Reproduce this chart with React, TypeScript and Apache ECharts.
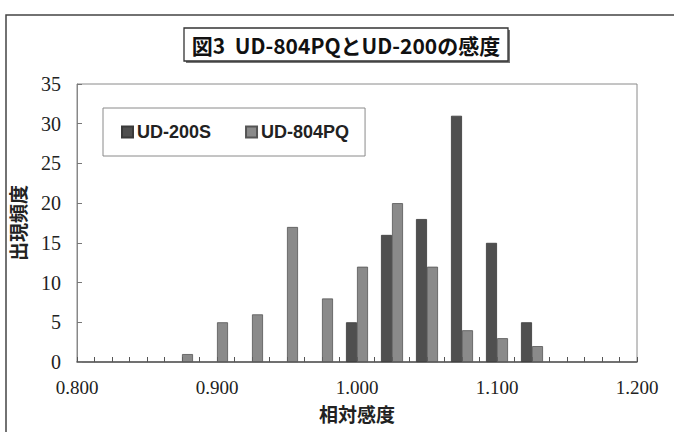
import React, { useEffect, useRef } from "react";
import * as echarts from "echarts";

const titleText = "図3  UD-804PQとUD-200の感度";
const seriesNames = ["UD-200S", "UD-804PQ"];
const yAxisName = "出現頻度";
const xAxisName = "相対感度";

// bin centres (relative sensitivity) and counts
const binsS = [1.0, 1.025, 1.05, 1.075, 1.1, 1.125];
const countsS = [5, 16, 18, 31, 15, 5];
const binsPQ = [0.875, 0.9, 0.925, 0.95, 0.975, 1.0, 1.025, 1.05, 1.075, 1.1, 1.125];
const countsPQ = [1, 5, 6, 17, 8, 12, 20, 12, 4, 3, 2];

const xMin = 0.8;
const xMax = 1.2;
const xInterval = 0.1;
const yMin = 0;
const yMax = 35;
const yInterval = 5;

export default function App() {
  const ref = useRef<HTMLDivElement>(null);
  useEffect(() => {
    if (!ref.current) return;
    const chart = echarts.init(ref.current, undefined, { renderer: "svg" });
    const serif = "Liberation Serif";
    chart.setOption({
      animation: false,
      backgroundColor: "#ffffff",
      grid: {
        left: 73,
        top: 84,
        width: 564,
        height: 278,
        show: true,
        borderColor: "#8a8a8a",
        borderWidth: 1,
        backgroundColor: "transparent",
      },
      legend: {
        left: 103,
        top: 108,
        data: seriesNames,
        icon: "rect",
        itemWidth: 11,
        itemHeight: 11,
        itemGap: 34,
        padding: [15, 16, 15, 18],
        borderColor: "#8a8a8a",
        borderWidth: 1,
        backgroundColor: "#ffffff",
        textStyle: {
          fontFamily: "Liberation Sans",
          fontWeight: "bold",
          fontSize: 18,
          color: "#222",
          padding: [0, 0, 0, -1],
        },
      },
      xAxis: {
        type: "value",
        min: xMin,
        max: xMax,
        interval: xInterval,
        name: xAxisName,
        nameLocation: "middle",
        nameGap: 42,
        nameTextStyle: {
          fontFamily: "Noto Sans CJK JP",
          fontSize: 19,
          fontWeight: "bold",
          color: "#222",
        },
        axisLine: { show: true, lineStyle: { color: "#555", width: 1.5 } },
        axisTick: { show: true, inside: true, length: 5, lineStyle: { color: "#555" } },
        minorTick: { show: true, splitNumber: 8, length: 5, lineStyle: { color: "#555" } },
        splitLine: { show: false },
        axisLabel: {
          margin: 16,
          fontFamily: serif,
          fontSize: 19,
          color: "#222",
          formatter: (v: number) => v.toFixed(3),
        },
      },
      yAxis: {
        type: "value",
        min: yMin,
        max: yMax,
        interval: yInterval,
        name: yAxisName,
        nameLocation: "middle",
        nameGap: 50,
        nameRotate: 90,
        nameTextStyle: {
          fontFamily: "Noto Sans CJK JP",
          fontSize: 19,
          fontWeight: "bold",
          color: "#222",
        },
        axisLine: { show: true, lineStyle: { color: "#888", width: 1 } },
        axisTick: { show: true, inside: true, length: 5, lineStyle: { color: "#777" } },
        splitLine: { show: false },
        axisLabel: {
          margin: 16,
          fontFamily: serif,
          fontSize: 20,
          color: "#222",
        },
      },
      series: [
        {
          name: seriesNames[0],
          type: "bar",
          barWidth: 11,
          barGap: "0%",
          itemStyle: { color: "#4f4f4f", borderColor: "#3a3a3a", borderWidth: 0.8 },
          data: binsS.map((b, i) => [b, countsS[i]]),
        },
        {
          name: seriesNames[1],
          type: "bar",
          barWidth: 11,
          barGap: "0%",
          itemStyle: { color: "#8a8a8a", borderColor: "#555", borderWidth: 0.8 },
          data: binsPQ.map((b, i) => [b, countsPQ[i]]),
        },
      ],
      graphic: [
        {
          type: "rect",
          shape: { x: 6, y: 15, width: 700, height: 450 },
          style: { fill: "none", stroke: "#444", lineWidth: 1.5 },
          silent: true,
        },
        {
          type: "rect",
          shape: { x: 186, y: 30, width: 324, height: 33 },
          style: { fill: "#777" },
          silent: true,
        },
        {
          type: "rect",
          shape: { x: 184, y: 28, width: 324, height: 33 },
          style: { fill: "#fff", stroke: "#333", lineWidth: 1.3 },
          silent: true,
        },
        {
          type: "text",
          x: 346,
          y: 45,
          style: {
            text: titleText,
            fontFamily: "Noto Sans CJK JP",
            fontWeight: "bold",
            fontSize: 21,
            fill: "#111",
            align: "center",
            verticalAlign: "middle",
          },
          silent: true,
        },
      ],
    });
    return () => chart.dispose();
  }, []);
  return (
    <div
      ref={ref}
      style={{ position: "fixed", left: 0, top: 0, width: 674, height: 432, background: "#fff" }}
    />
  );
}
